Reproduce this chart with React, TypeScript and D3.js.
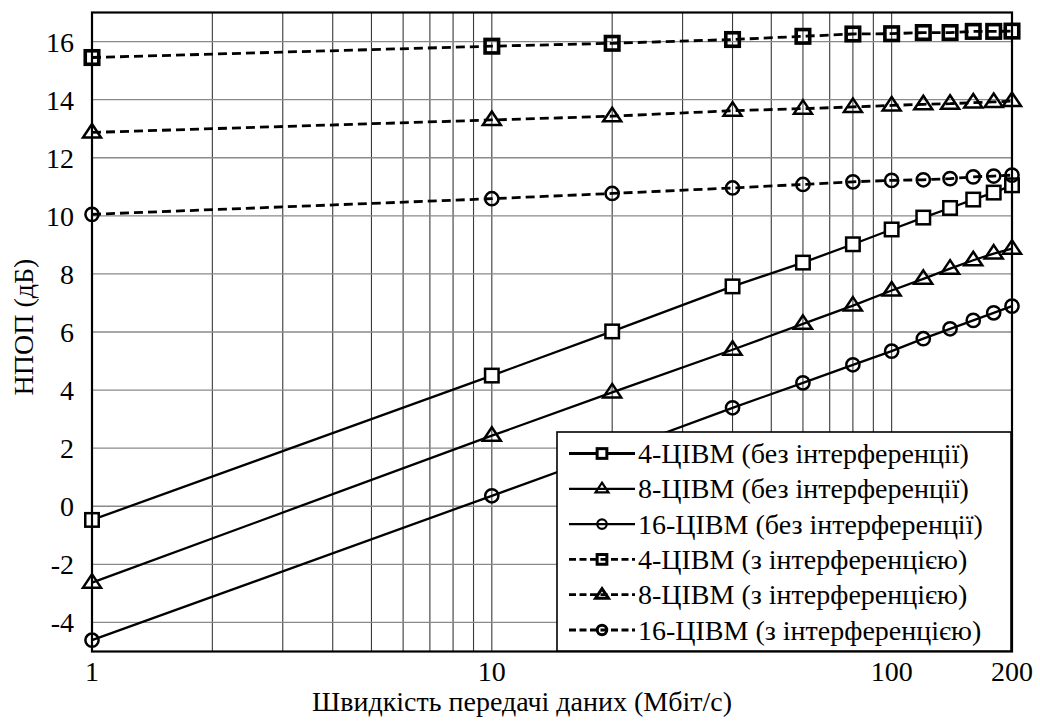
import React from "react";
import * as d3 from "d3";

// Data rates (Mbit/s) at which each curve is evaluated
const rates = [1, 10, 20, 40, 60, 80, 100, 120, 140, 160, 180, 200];

// Required SNR (dB) without interference
const qam4Clean = [-0.47, 4.5, 6.02, 7.57, 8.39, 9.02, 9.53, 9.94, 10.27, 10.56, 10.8, 11.05];
const qam8Clean = [-2.63, 2.43, 3.92, 5.39, 6.28, 6.91, 7.43, 7.83, 8.18, 8.47, 8.7, 8.87];
const qam16Clean = [-4.61, 0.36, 1.86, 3.39, 4.25, 4.87, 5.34, 5.77, 6.11, 6.4, 6.66, 6.89];

// Required SNR (dB) with interference
const qam4Interf = [15.45, 15.84, 15.94, 16.07, 16.18, 16.26, 16.27, 16.31, 16.31, 16.35, 16.35, 16.36];
const qam8Interf = [12.87, 13.3, 13.43, 13.62, 13.69, 13.75, 13.8, 13.84, 13.86, 13.9, 13.92, 13.95];
const qam16Interf = [10.05, 10.59, 10.77, 10.96, 11.08, 11.17, 11.22, 11.24, 11.28, 11.34, 11.37, 11.4];

const seriesNames = [
  "4-ЦІВМ (без інтерференції)",
  "8-ЦІВМ (без інтерференції)",
  "16-ЦІВМ (без інтерференції)",
  "4-ЦІВМ (з інтерференцією)",
  "8-ЦІВМ (з інтерференцією)",
  "16-ЦІВМ (з інтерференцією)",
];

const xTickLabels = [1, 10, 100, 200];
const yTickLabels = [-4, -2, 0, 2, 4, 6, 8, 10, 12, 14, 16];

const xTitle = "Швидкість передачі даних (Мбіт/с)";
const yTitle = "НПОП (дБ)";

type Shape = "square" | "triangle" | "circle";

const series: { name: string; values: number[]; shape: Shape; dashed: boolean }[] = [
  { name: seriesNames[0], values: qam4Clean, shape: "square", dashed: false },
  { name: seriesNames[1], values: qam8Clean, shape: "triangle", dashed: false },
  { name: seriesNames[2], values: qam16Clean, shape: "circle", dashed: false },
  { name: seriesNames[3], values: qam4Interf, shape: "square", dashed: true },
  { name: seriesNames[4], values: qam8Interf, shape: "triangle", dashed: true },
  { name: seriesNames[5], values: qam16Interf, shape: "circle", dashed: true },
];

const W = 1040;
const H = 722;
const left = 92;
const right = 1012;
const top = 12.5;
const bottom = 651.5;
const FS = 28;

const x = d3.scaleLog().domain([1, 200]).range([left, right]);
const y = d3.scaleLinear().domain([-5, 17]).range([bottom, top]);

const css = `
.chart text {
  font-family: "Times New Roman", "Liberation Serif", Tinos, FreeSerif, serif;
  font-size: ${FS}px;
  fill: #000;
}
`;

function Marker({ shape, cx, cy, scale, sw, fill }: { shape: Shape; cx: number; cy: number; scale: number; sw: number; fill: string }) {
  if (shape === "square") {
    const s = 13.5 * scale;
    return <rect x={cx - s / 2} y={cy - s / 2} width={s} height={s} fill={fill} stroke="#000" strokeWidth={sw} />;
  }
  if (shape === "circle") {
    return <circle cx={cx} cy={cy} r={6.6 * scale} fill={fill} stroke="#000" strokeWidth={sw} />;
  }
  const hw = 9 * scale;
  const up = 8.5 * scale;
  const dn = 5 * scale;
  const p = d3.path();
  p.moveTo(cx, cy - up);
  p.lineTo(cx + hw, cy + dn);
  p.lineTo(cx - hw, cy + dn);
  p.closePath();
  return <path d={p.toString()} fill={fill} stroke="#000" strokeWidth={sw} strokeLinejoin="miter" />;
}

export default function App() {
  const line = d3
    .line<number>()
    .x((_, i) => x(rates[i]))
    .y((v) => y(v));

  const minorX: number[] = [];
  for (let d = 1; d <= 100; d *= 10) {
    for (let k = 2; k <= 10; k++) {
      const v = d * k;
      if (v < 200) minorX.push(v);
    }
  }
  const gridY = yTickLabels;

  const legX = 557;
  const legY = 432;
  const legW = 454;
  const legH = 219;
  const rowH = 35.3;

  return (
    <svg className="chart" width={W} height={H} style={{ position: "absolute", left: 0, top: 0, background: "#fff" }}>
      <style>{css}</style>
      <rect x={0} y={0} width={W} height={H} fill="#fff" />
      {/* grid */}
      {minorX.map((v) => (
        <line key={"gx" + v} x1={x(v)} x2={x(v)} y1={top} y2={bottom} stroke="#3a3a3a" strokeWidth={1.1} />
      ))}
      {gridY.map((v) => (
        <line key={"gy" + v} x1={left} x2={right} y1={y(v)} y2={y(v)} stroke="#8a8a8a" strokeWidth={1.3} />
      ))}

      {/* curves */}
      {series.map((s, si) => (
        <g key={"s" + si}>
          <path
            d={line(s.values) || ""}
            fill="none"
            stroke="#000"
            strokeWidth={s.dashed ? 2.8 : 2.3}
            strokeDasharray={s.dashed ? "9 5" : undefined}
          />
          {s.values.map((v, i) => (
            <Marker
              key={i}
              shape={s.shape}
              cx={x(rates[i])}
              cy={y(v)}
              scale={1}
              sw={s.dashed && s.shape === "square" ? 3.6 : 2.5}
              fill={!s.dashed && s.shape === "square" ? "#fff" : "none"}
            />
          ))}
        </g>
      ))}

      {/* axes box */}
      <rect x={left} y={top} width={right - left} height={bottom - top} fill="none" stroke="#000" strokeWidth={2.2} />

      {/* tick labels */}
      {xTickLabels.map((v) => (
        <text key={"xt" + v} x={x(v)} y={681} textAnchor="middle">
          {v}
        </text>
      ))}
      {yTickLabels.map((v) => (
        <text key={"yt" + v} x={74} y={y(v) + 10} textAnchor="end">
          {v}
        </text>
      ))}

      {/* axis titles */}
      <text x={(left + right) / 2 - 30} y={711} textAnchor="middle">
        {xTitle}
      </text>
      <text transform={`translate(33, ${327}) rotate(-90)`} textAnchor="middle">
        {yTitle}
      </text>

      {/* legend */}
      <rect x={legX} y={legY} width={legW} height={legH} fill="#fff" stroke="#000" strokeWidth={1.6} />
      {series.map((s, i) => {
        const cy = legY + 21.5 + i * rowH;
        return (
          <g key={"lg" + i}>
            <line
              x1={569}
              x2={635}
              y1={cy}
              y2={cy}
              stroke="#000"
              strokeWidth={i === 0 ? 3.2 : s.dashed ? 2.8 : 2.2}
              strokeDasharray={s.dashed ? "7 3.5" : undefined}
            />
            <Marker
              shape={s.shape}
              cx={602}
              cy={cy}
              scale={0.72}
              sw={s.dashed || i === 0 ? 3 : 2.2}
              fill={!s.dashed && s.shape === "square" ? "#fff" : "none"}
            />
            <text x={638} y={cy + 9.5}>
              {s.name}
            </text>
          </g>
        );
      })}
    </svg>
  );
}
